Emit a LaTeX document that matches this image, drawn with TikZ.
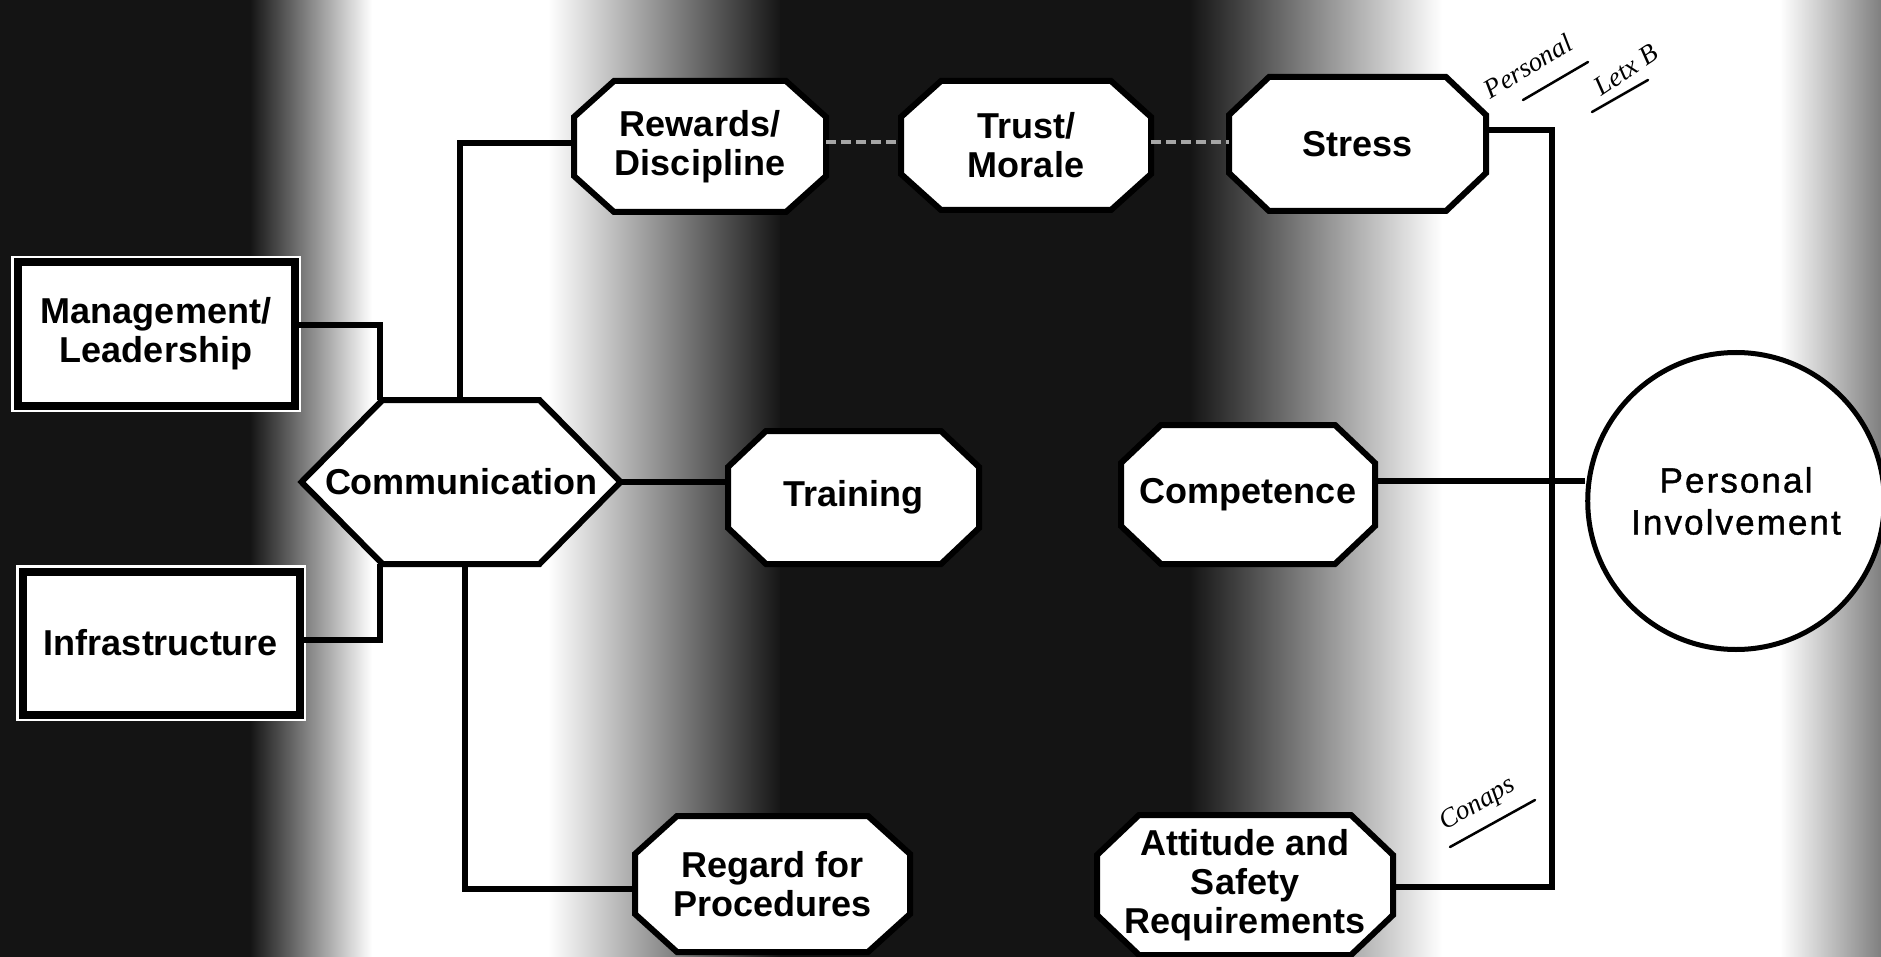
\documentclass[tikz,border=0pt]{standalone}
\usepackage{fontspec}
\setmainfont{Liberation Sans}
\newfontfamily\pifont{Liberation Sans}[LetterSpace=6, FakeBold=1.2]
\newfontfamily\handfont{Liberation Serif}
\usetikzlibrary{shapes.geometric,calc}
\definecolor{dk}{gray}{0.08}
\tikzset{
  lbl/.style={font=\bfseries\fontsize{36}{39}\selectfont, align=center, inner sep=0pt},
  shapeline/.style={draw=black, fill=white, line width=6pt, line join=miter},
  conn/.style={draw=black, line width=5.5pt},
  faint/.style={draw=black!35, line width=4pt, dash pattern=on 10pt off 5pt},
  dbox/.style={rectangle, draw=black, fill=white, line width=8pt,
    preaction={draw=white, line width=13pt}, minimum width=277pt, minimum height=143pt, lbl},
  hand/.style={font=\handfont\itshape\fontsize{27}{27}\selectfont, inner sep=0pt},
  pinv/.style={ellipse, draw=black, fill=white, line width=5pt, minimum width=279pt,
    minimum height=297pt, inner sep=0pt, align=center, font=\pifont\fontsize{35}{42}\selectfont},
}
% #1 name, #2 cx, #3 cy, #4 w, #5 h, #6 cutx, #7 cuty, #8 text
\newcommand\octbox[8]{%
  \path[shapeline] ({#2-#4/2+#6},{#3-#5/2}) -- ({#2+#4/2-#6},{#3-#5/2})
    -- ({#2+#4/2},{#3-#5/2+#7}) -- ({#2+#4/2},{#3+#5/2-#7})
    -- ({#2+#4/2-#6},{#3+#5/2}) -- ({#2-#4/2+#6},{#3+#5/2})
    -- ({#2-#4/2},{#3+#5/2-#7}) -- ({#2-#4/2},{#3-#5/2+#7}) -- cycle;
  \node[lbl, minimum width=#4pt, minimum height=#5pt] (#1) at (#2,#3) {#8};}
% #1 name, #2 cx, #3 cy, #4 w, #5 h, #6 cutx, #7 text
\newcommand\hexbox[7]{%
  \path[shapeline] ({#2-#4/2+#6},{#3-#5/2}) -- ({#2+#4/2-#6},{#3-#5/2})
    -- ({#2+#4/2},{#3}) -- ({#2+#4/2-#6},{#3+#5/2})
    -- ({#2-#4/2+#6},{#3+#5/2}) -- ({#2-#4/2},{#3}) -- cycle;
  \node[lbl, minimum width=#4pt, minimum height=#5pt] (#1) at (#2,#3) {#7};}
\begin{document}
\begin{tikzpicture}[x=1pt,y=-1pt]
\useasboundingbox (0,0) rectangle (1881,957);
% background of the scan
\fill[white] (0,0) rectangle (1881,957);
\fill[dk] (0,0) rectangle (252,957);
\shade[left color=dk, right color=white] (250,0) rectangle (372,957);
\shade[left color=white, right color=dk] (548,0) rectangle (782,957);
\fill[dk] (780,0) rectangle (1192,957);
\shade[left color=dk, right color=white] (1190,0) rectangle (1442,957);
\shade[left color=white, right color=black!50] (1780,0) rectangle (1881,957);

% nodes
\node[dbox] (man) at (156,334) {Management/\\Leadership};
\node[dbox] (inf) at (161,643) {Infrastructure};
\hexbox{comm}{461}{482}{319}{164}{81}{Communication}
\octbox{rew}{700}{146.5}{252}{131}{40}{36}{Rewards/\\Discipline}
\octbox{trust}{1026}{145.5}{250}{129}{40}{36}{Trust/\\Morale}
\octbox{stress}{1357.5}{144}{257}{134}{40}{38}{Stress}
\octbox{train}{853.5}{497.5}{251}{133}{38}{36}{Training}
\octbox{comp}{1248}{494.5}{254}{139}{40}{38}{Competence}
\octbox{reg}{772.5}{884}{275}{136}{42}{38}{Regard for\\Procedures}
\octbox{att}{1245}{885}{296}{140}{42}{40}{Attitude and\\Safety\\Requirements}
\node[pinv] (pers) at (1736,501) {Personal\\Involvement};

% junction points
\coordinate (ltop) at (460,143);
\coordinate (lbot) at (465,889);
\coordinate (mj) at (380,325);
\coordinate (ij) at (380,640);
\coordinate (rtop) at (1552,130);
\coordinate (rbot) at (1552,887);
\coordinate (cj) at (1552,481);
\coordinate (tj) at (1000,142);

% connectors
\draw[conn] (man.east |- mj) -- (mj) -- (mj |- comm.north);
\draw[conn] (inf.east |- ij) -- (ij) -- (ij |- comm.south);
\draw[conn] (comm.north -| ltop) -- (ltop) -- (ltop -| rew.west);
\draw[conn] (comm.south -| lbot) -- (lbot) -- (lbot -| reg.west);
\draw[conn] (comm.east) -- (comm.east -| train.west);
\draw[faint] (rew.east |- tj) -- (tj -| trust.west);
\draw[faint] (trust.east |- tj) -- (tj -| stress.west);
\draw[conn] (stress.east |- rtop) -- (rtop) -- (rbot) -- (rbot -| att.east);
\draw[conn] (comp.east |- cj) -- (cj -| pers.west);

% handwritten notes
\node[hand, rotate=31] (h1) at (1528,66) {Personal};
\node[hand, rotate=34] (h2) at (1626,70) {Letx B};
\draw[line width=2.5pt, line cap=round] (1523,100) -- (1588,62);
\draw[line width=2.5pt, line cap=round] (1592,112) -- (1648,80);
\node[hand, rotate=30] (h3) at (1478,805) {Conaps};
\draw[line width=2.5pt, line cap=round] (1450,847) -- (1535,800);
\end{tikzpicture}
\end{document}
